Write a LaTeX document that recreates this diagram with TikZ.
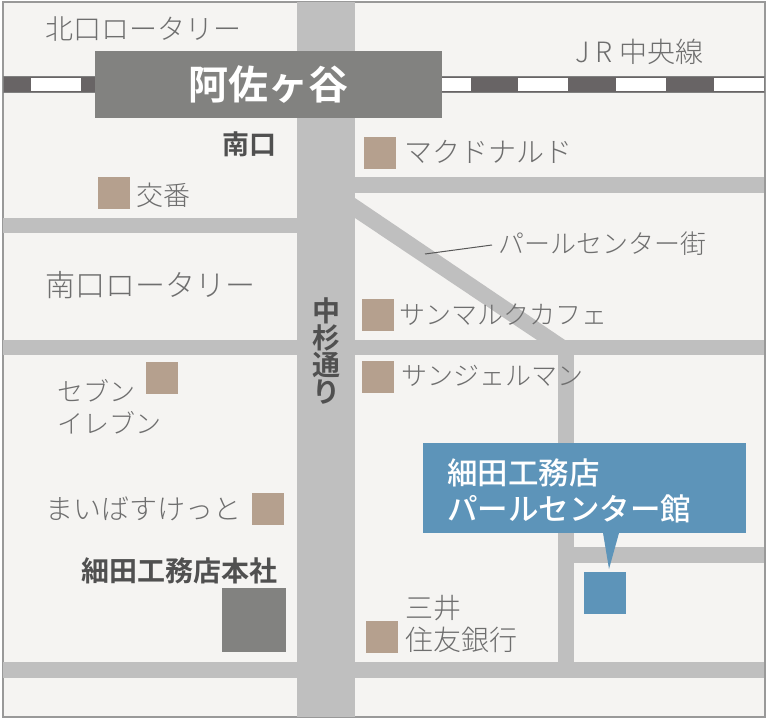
\documentclass[tikz,border=0pt]{standalone}
\usepackage{fontspec}
\setmainfont{Noto Sans CJK JP Light}[BoldFont={Noto Sans CJK JP Medium}]
\newfontfamily\jpmid{Noto Sans CJK JP Medium}
\newfontfamily\jpbold{Noto Sans CJK JP Bold}
\tikzset{
 road/.style={fill=roadgray, draw=none},
 shop/.style={fill=shopbrown, draw=none},
 label/.style={text=labelgray, font=\fontsize{#1}{32}\selectfont, inner sep=0, align=left, anchor=west},
 label/.default=26,
 heavy/.style={text=heavygray, font=\jpbold\fontsize{28}{30}\selectfont, inner sep=0},
}
\definecolor{roadgray}{HTML}{BFBFBF}
\definecolor{shopbrown}{HTML}{B5A08E}
\definecolor{labelgray}{HTML}{6E6E6E}
\definecolor{heavygray}{HTML}{505050}
\definecolor{stationgray}{HTML}{828280}
\definecolor{raildark}{HTML}{686465}
\definecolor{shopblue}{HTML}{5D94B9}
\definecolor{paper}{HTML}{F5F4F2}
\begin{document}
\begin{tikzpicture}[x=1pt,y=-1pt]
\useasboundingbox (0,0) rectangle (768,720);
\fill[white] (0,0) rectangle (768,720);
\draw[fill=paper, draw=gray!80, line width=1.5] (3,2) rectangle (765,717);
% roads
\fill[road] (297,2) rectangle (355,717);
\fill[road] (355,177) rectangle (764,193);
\fill[road] (3,218) rectangle (297,233);
\fill[road] (3,340) rectangle (764,355);
\fill[road] (3,662) rectangle (764,678);
\fill[road] (574,547) rectangle (764,563);
\fill[road] (558,355) rectangle (574,662);
\fill[road] (355,198) -- (565,340) -- (537,340) -- (355,218) -- cycle;
% railway
\draw[draw=gray, fill=raildark] (3,76) rectangle (764,92);
\foreach \x/\w in {31/50, 442/29, 518/50, 616/50, 714/50} {
 \fill[white] (\x,77.5) rectangle ++(\w,13);
}
% station
\fill[stationgray] (95,51) rectangle (442,118);
\node[text=white, font=\jpbold\fontsize{40}{40}\selectfont, inner sep=0] (asagaya) at (268.5,85) {阿佐ヶ谷};
% shops
\foreach \x/\y in {364/137, 98/177, 362/299, 362/361, 146/362, 252/493, 366/621} {
 \fill[shop] (\x,\y) rectangle ++(32,32);
}
\fill[stationgray] (222,588) rectangle (286,652);
\fill[shopblue] (584,572) rectangle (626,614);
\fill[shopblue] (423,443) rectangle (746,533);
\fill[shopblue] (603,533) -- (619,533) -- (609,569) -- cycle;
\draw[labelgray!80!black, line width=1] (425,254) -- (492,245);
% labels
\node[label=28] (kitaguchi) at (45,29) {北口ロータリー};
\node[label=28] (jr) at (575,52) {J R 中央線};
\node[heavy, anchor=west, font=\jpbold\fontsize{27}{30}\selectfont] (minamiguchi) at (222,144) {南口};
\node[label=28] (mac) at (404,152) {マクドナルド};
\node[label=27] (koban) at (136,195) {交番};
\node[label] (pearl) at (498,244) {パールセンター街};
\node[label=30] (rotary) at (45,285) {南口ロータリー};
\node[label] (cafe) at (399,315) {サンマルクカフェ};
\node[label] (germain) at (401,376) {サンジェルマン};
\node[label] (seven) at (57,407) {セブン\\イレブン};
\node[label=28] (maibasket) at (45,509) {まいばすけっと};
\node[heavy, anchor=west] (honsha) at (81,571) {細田工務店本社};
\node[label=28] (mitsui) at (405,624) {三井\\住友銀行};
\node[heavy, align=center, font=\jpbold\fontsize{28}{27}\selectfont] (nakasugi) at (326,351) {中\\杉\\通\\り};
\node[text=white, font=\jpmid\fontsize{30.5}{36}\selectfont, anchor=west, align=left, inner sep=0] (hosoda) at (447,491) {細田工務店\\パールセンター館};
\end{tikzpicture}
\end{document}
